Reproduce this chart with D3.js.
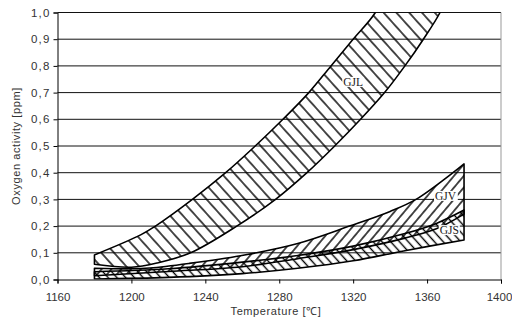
<!DOCTYPE html>
<html>
<head>
<meta charset="utf-8">
<script src="https://cdn.jsdelivr.net/npm/d3@7"></script>
<style>
  body { margin: 0; background: #fff; }
  svg { display: block; }
</style>
</head>
<body>
<svg id="chart" width="512" height="320"></svg>
<script>
// axis ticks
const xTicks = [1160, 1200, 1240, 1280, 1320, 1360, 1400];
const yTicks = [0, 0.1, 0.2, 0.3, 0.4, 0.5, 0.6, 0.7, 0.8, 0.9, 1.0];

// band boundaries, [temperature, oxygen activity]
const gjlUpper = [[1180,0.092],[1205,0.167],[1213,0.2],[1233,0.3],[1251,0.4],[1267,0.5],[1282,0.6],[1296,0.7],[1308,0.8],[1320,0.9],[1332,1.0],[1340,1.12]];
const gjlLower = [[1180,0.057],[1200,0.046],[1214,0.062],[1232,0.1],[1257,0.2],[1278,0.3],[1295,0.4],[1310,0.5],[1324,0.6],[1337,0.7],[1348,0.8],[1358,0.9],[1367,1.0],[1373,1.1]];
const gjvUpper = [[1180,0.042],[1200,0.04],[1210,0.043],[1231,0.06],[1259,0.089],[1290,0.135],[1318,0.2],[1340,0.255],[1354,0.3],[1374,0.4],[1380,0.433]];
const gjvLower = [[1180,0.014],[1220,0.03],[1260,0.048],[1290,0.078],[1320,0.112],[1348,0.155],[1365,0.19],[1380,0.245]];
const gjsUpper = [[1180,0.029],[1220,0.04],[1260,0.065],[1290,0.09],[1320,0.125],[1348,0.172],[1365,0.21],[1380,0.26]];
const gjsLower = [[1180,0.002],[1220,0.008],[1260,0.022],[1290,0.042],[1320,0.07],[1348,0.108],[1380,0.148]];

const bandNames = ["GJL", "GJV", "GJS"];
const labelPos = [[1320,0.74],[1370,0.313],[1372,0.185]];

const margin = {left: 57.5, top: 12.5};
const width = 443.5, height = 267;

const svg = d3.select("#chart");
const g = svg.append("g").attr("transform", `translate(${margin.left},${margin.top})`);

const x = d3.scaleLinear().domain([1160, 1400]).range([0, width]);
const y = d3.scaleLinear().domain([0, 1]).range([height, 0]);

// hatch patterns
const defs = svg.append("defs");
function hatch(id, angle, step){
	defs.append("pattern")
		.attr("id", id)
		.attr("patternUnits", "userSpaceOnUse")
		.attr("width", step).attr("height", step)
		.attr("patternTransform", `rotate(${angle})`)
		.append("line")
		.attr("x1", step/2).attr("x2", step/2)
		.attr("y1", 0).attr("y2", step)
		.attr("stroke", "#000").attr("stroke-width", 1.4);
}
hatch("hGJL", -42, 9.5);
hatch("hGJV", 40, 7.5);
hatch("hGJS", -42, 6.5);

defs.append("clipPath").attr("id", "plotClip")
	.append("rect").attr("x", 0).attr("y", 0).attr("width", width).attr("height", height);

// grid
g.selectAll(".grid").data(yTicks.slice(1)).enter().append("line")
	.attr("x1", 0).attr("x2", width)
	.attr("y1", d => y(d)).attr("y2", d => y(d))
	.attr("stroke", "#111").attr("stroke-width", 1);

g.append("line").attr("x1", width).attr("x2", width).attr("y1", 0).attr("y2", height)
	.attr("stroke", "#999").attr("stroke-width", 1);

// bands
const line = d3.line().x(d => x(d[0])).y(d => y(d[1])).curve(d3.curveCatmullRom);
function bandPath(upper, lower){
	let a = line(upper);
	let b = line(lower.slice().reverse()).replace(/^M/, "L");
	return a + b + "Z";
}

const bands = [[gjlUpper, gjlLower], [gjvUpper, gjvLower], [gjsUpper, gjsLower]];
const plot = g.append("g").attr("clip-path", "url(#plotClip)");
bands.forEach(function(b, i){
	plot.append("path")
		.attr("d", bandPath(b[0], b[1]))
		.attr("fill", `url(#h${bandNames[i]})`)
		.attr("stroke", "#000")
		.attr("stroke-width", 1.6)
		.attr("stroke-linejoin", "round");
});

// labels
bandNames.forEach(function(name, i){
	let t = g.append("text")
		.attr("x", x(labelPos[i][0])).attr("y", y(labelPos[i][1]))
		.attr("text-anchor", "middle").attr("dominant-baseline", "central")
		.attr("font-family", "Liberation Serif").attr("font-size", 11.5)
		.attr("fill", "#222").text(name);
	let bb = t.node().getBBox();
	g.insert("rect", "text")
		.attr("x", bb.x - 1).attr("y", bb.y + 1)
		.attr("width", bb.width + 2).attr("height", bb.height - 2)
		.attr("fill", "#fff");
});

// axes
const fmt = d => d3.format(".1f")(d).replace(".", ",");
const yAxis = g.append("g").call(d3.axisLeft(y).tickValues(yTicks).tickFormat(fmt).tickSize(4).tickPadding(3));
const xAxis = g.append("g").attr("transform", `translate(0,${height})`)
	.call(d3.axisBottom(x).tickValues(xTicks).tickFormat(d3.format("d")).tickSize(4).tickPadding(9));
[yAxis, xAxis].forEach(function(a){
	a.select(".domain").attr("stroke", "#000");
	a.selectAll(".tick line").attr("stroke", "#000");
	a.selectAll("text").attr("font-family", "Liberation Sans").attr("font-size", 11.5).attr("fill", "#333");
});
yAxis.selectAll("text").attr("letter-spacing", 1.2);
xAxis.selectAll(".tick:last-of-type text").attr("dx", -2);

svg.append("text")
	.attr("transform", "translate(20,146) rotate(-90)")
	.attr("text-anchor", "middle")
	.attr("font-family", "Liberation Sans").attr("font-size", 11).attr("letter-spacing", 0.6).attr("fill", "#333")
	.text("Oxygen activity [ppm]");

svg.append("text")
	.attr("x", 276).attr("y", 315)
	.attr("text-anchor", "middle")
	.attr("font-family", "Liberation Sans").attr("font-size", 11).attr("letter-spacing", 0.6).attr("fill", "#333")
	.text("Temperature [℃]");
</script>
</body>
</html>
